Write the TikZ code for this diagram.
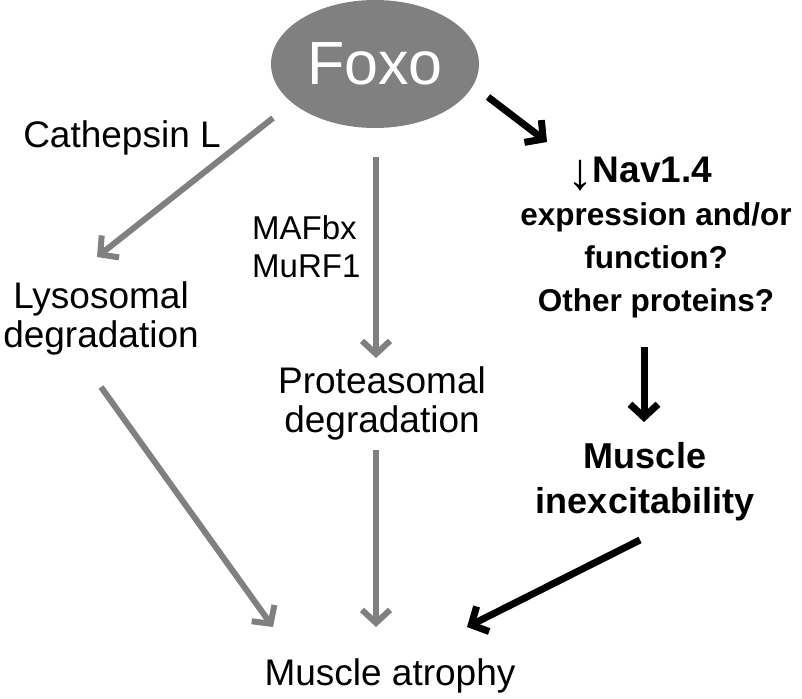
\documentclass[tikz,border=0pt]{standalone}
\usepackage{fontspec}
\setmainfont{Liberation Sans}
\usetikzlibrary{arrows.meta,shapes.geometric}
\definecolor{midgray}{HTML}{808080}
\tikzset{
  lbl/.style={inner sep=0pt, font=\fontsize{37}{39}\selectfont},
  small/.style={inner sep=0pt, font=\fontsize{33}{38}\selectfont},
  bolda/.style={inner sep=0pt, font=\fontsize{31.5}{43}\selectfont\bfseries},
  boldb/.style={inner sep=0pt, font=\fontsize{36}{45}\selectfont\bfseries},
  grayarrow/.style={draw=midgray, line width=6pt, -{Straight Barb[length=13pt,width=28pt]}},
  blackarrow/.style={draw=black, line width=7pt, -{Straight Barb[length=13pt,width=28pt]}},
}
\begin{document}
\begin{tikzpicture}[x=1pt,y=-1pt]
\useasboundingbox (0,0) rectangle (802,698);
% nodes
\node[ellipse, fill=midgray, minimum width=208pt, minimum height=128pt, inner sep=0pt,
      text=white, font=\fontsize{61}{61}\selectfont] (foxo) at (375,64) {Foxo};
\node[lbl, anchor=base] (cath) at (122,147) {Cathepsin L};
\node[lbl, align=center] (lyso) at (101,318) {Lysosomal\\degradation};
\node[small, align=left, anchor=west] (maf) at (252,247) {MAFbx\\MuRF1};
\node[lbl, align=center] (prot) at (382,403) {Proteasomal\\degradation};
\node[bolda, align=center] (nav) at (656,238) {{\fontsize{37}{43}\selectfont\raisebox{-7pt}{\mdseries\fontsize{52}{43}\selectfont\char"2193}\kern-1pt Nav1.4\hspace*{32pt}}\\expression and/or\\function?\\Other proteins?};
\node[boldb, align=center] (inex) at (645,482) {Muscle\\inexcitability};
\node[lbl, anchor=base] (atro) at (390,685) {Muscle atrophy};
% arrow end points
\coordinate (c1s) at (273,118); \coordinate (c1e) at (97,257);
\coordinate (c2s) at (376,157); \coordinate (c2e) at (376,358);
\coordinate (c3s) at (101,387); \coordinate (c3e) at (273,627);
\coordinate (c4s) at (376,450); \coordinate (c4e) at (376,627);
\coordinate (c5s) at (488,97);  \coordinate (c5e) at (547,142);
\coordinate (c6s) at (644,347); \coordinate (c6e) at (644,422);
\coordinate (c7s) at (640,540); \coordinate (c7e) at (467,627);
% connectors
\draw[grayarrow] (c1s) -- (c1e);
\draw[grayarrow] (c2s) -- (c2e);
\draw[grayarrow] (c3s) -- (c3e);
\draw[grayarrow] (c4s) -- (c4e);
\draw[blackarrow] (c5s) -- (c5e);
\draw[blackarrow] (c6s) -- (c6e);
\draw[blackarrow] (c7s) -- (c7e);
\end{tikzpicture}
\end{document}
